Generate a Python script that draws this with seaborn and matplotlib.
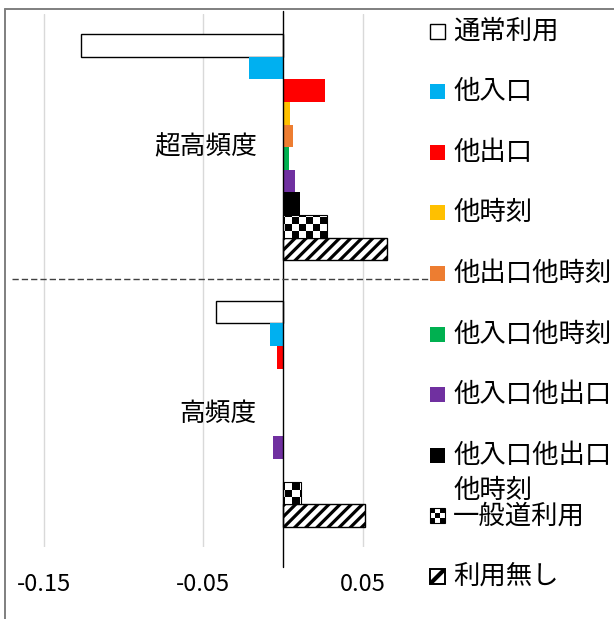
import numpy as np
import pandas as pd
import matplotlib
matplotlib.use("Agg")
import matplotlib.pyplot as plt
from matplotlib.patches import Rectangle
from matplotlib.colors import ListedColormap
import seaborn as sns

# ---- data -------------------------------------------------------------
frequency = ["超高頻度", "高頻度"]
usage_types = ["通常利用", "他入口", "他出口", "他時刻", "他出口他時刻",
               "他入口他時刻", "他入口他出口", "他入口他出口他時刻",
               "一般道利用", "利用無し"]
super_high = [-0.1265, -0.0211, 0.0263, 0.0044, 0.0063,
              0.0038, 0.0075, 0.0107, 0.0274, 0.0654]
high = [-0.0420, -0.0082, -0.0036, 0.0, 0.0,
        0.0005, -0.0060, 0.0, 0.0113, 0.0514]
colors = ["#FFFFFF", "#00B0F0", "#FF0000", "#FFC000", "#ED7D31",
          "#00B050", "#7030A0", "#000000", "#FFFFFF", "#FFFFFF"]
x_ticks = [-0.15, -0.05, 0.05]
x_tick_labels = ["-0.15", "-0.05", "0.05"]

df = pd.DataFrame({
    "頻度": np.repeat(frequency, len(usage_types)),
    "種類": usage_types * len(frequency),
    "値": super_high + high,
})

# ---- style ------------------------------------------------------------
sns.set_theme(style="white")
plt.rcParams["font.family"] = ["Noto Sans CJK JP", "DejaVu Sans"]
plt.rcParams["hatch.linewidth"] = 2.3
plt.rcParams["hatch.color"] = "black"

W, H = 614, 619
fig = plt.figure(figsize=(W / 100, H / 100), dpi=100)
fig.patch.set_facecolor("white")

X0, X1 = -0.1743, 0.0922          # value range of the plot area
PX_PER_UNIT = 1595.0
ax = fig.add_axes([5 / W, 72 / H, 425 / W, 533 / H])

sns.barplot(data=df, x="値", y="頻度", hue="種類", order=frequency,
            hue_order=usage_types, palette=colors, orient="h",
            width=0.848, errorbar=None, linewidth=0, saturation=1,
            legend=False, ax=ax)

# checkerboard texture used for 一般道利用
cell = 7
nx, ny = 61, 77
checker = np.add.outer(np.arange(ny), np.arange(nx)) % 2
checker_cmap = ListedColormap(["black", "white"])
chk_extent = (X0, X0 + nx * cell / PX_PER_UNIT,
              -0.5 + ny * cell * 2 / 533, -0.5)

for name, cont in zip(usage_types, ax.containers):
    for bar in cont:
        if name == "通常利用":
            bar.set_facecolor("white")
            bar.set_edgecolor("black")
            bar.set_linewidth(1.0)
        elif name == "利用無し":
            bar.set_facecolor("white")
            bar.set_edgecolor("black")
            bar.set_hatch("///")
            bar.set_linewidth(1.0)
        elif name == "一般道利用":
            bar.set_facecolor("none")
            bar.set_edgecolor("black")
            bar.set_linewidth(0.8)
            bar.set_zorder(3)
            im = ax.imshow(checker, cmap=checker_cmap, vmin=0, vmax=1,
                           extent=chk_extent, origin="upper",
                           aspect="auto", interpolation="nearest",
                           zorder=2)
            im.set_clip_path(bar)

ax.set_xlim(X0, X1)
ax.set_ylim(1.5, -0.5)
ax.set_xticks(x_ticks)
ax.set_xticklabels(x_tick_labels)
ax.set_yticks([])
ax.set_xlabel("")
ax.set_ylabel("")
ax.tick_params(axis="x", length=0, labelsize=17, pad=19, colors="black")
ax.grid(axis="x", color="#D9D9D9", linewidth=1.0)
ax.set_axisbelow(True)
for s in ax.spines.values():
    s.set_visible(False)

# vertical axis through zero
ax.axvline(0, ymin=-20 / 533, ymax=1 + 3 / 533, color="black",
           linewidth=1.0, clip_on=False, zorder=4)

# category names next to the zero line
for i, name in enumerate(frequency):
    ax.text(-0.0163, i, name, ha="right", va="center", fontsize=18.5,
            color="black")

# ---- overlay in pixel coordinates: frame, divider, legend -------------
ov = fig.add_axes([0, 0, 1, 1])
ov.set_xlim(0, W)
ov.set_ylim(H, 0)
ov.axis("off")

ov.plot([5, 5], [9, H], color="#7F7F7F", linewidth=1.4)
ov.plot([5, W], [9, 9], color="#7F7F7F", linewidth=1.4)
ov.plot([12, 430], [279, 279], color="#404040", linewidth=1.0,
        dashes=(4.5, 2.2))

row0, row_step = 31.0, 60.6
sq = 15
for i, (name, col) in enumerate(zip(usage_types, colors)):
    yc = row0 + i * row_step
    x_icon, y_icon = 430, yc - sq / 2
    if name == "一般道利用":
        icon = np.array([[0, 1, 0], [1, 0, 1], [0, 1, 0]])
        ov.imshow(icon, cmap=checker_cmap, vmin=0, vmax=1,
                  extent=(x_icon, x_icon + sq, yc + sq / 2, yc - sq / 2),
                  origin="upper", aspect="auto", interpolation="nearest")
        ov.add_patch(Rectangle((x_icon, y_icon), sq, sq, facecolor="none",
                               edgecolor="black", linewidth=0.8))
    elif name == "利用無し":
        box = Rectangle((x_icon, y_icon), sq, sq, facecolor="white",
                        edgecolor="black", linewidth=1.4)
        ov.add_patch(box)
        stripe, = ov.plot([x_icon, x_icon + sq], [y_icon + sq, y_icon],
                          color="black", linewidth=3.0,
                          solid_capstyle="butt")
        stripe.set_clip_path(box)
    elif name == "通常利用":
        ov.add_patch(Rectangle((x_icon, y_icon), sq, sq, facecolor="white",
                               edgecolor="black", linewidth=1.0))
    else:
        ov.add_patch(Rectangle((x_icon, y_icon), sq, sq, facecolor=col,
                               edgecolor="none"))
    if len(name) > 6:
        label = name[:6] + "\n" + name[6:]
        ov.text(453, yc + 18, label, ha="left", va="center", fontsize=19,
                linespacing=1.4, color="black")
    else:
        ov.text(453, yc, name, ha="left", va="center", fontsize=19,
                color="black")

ov.set_xlim(0, W)
ov.set_ylim(H, 0)

fig.savefig("out.png", dpi=100, facecolor="white")
